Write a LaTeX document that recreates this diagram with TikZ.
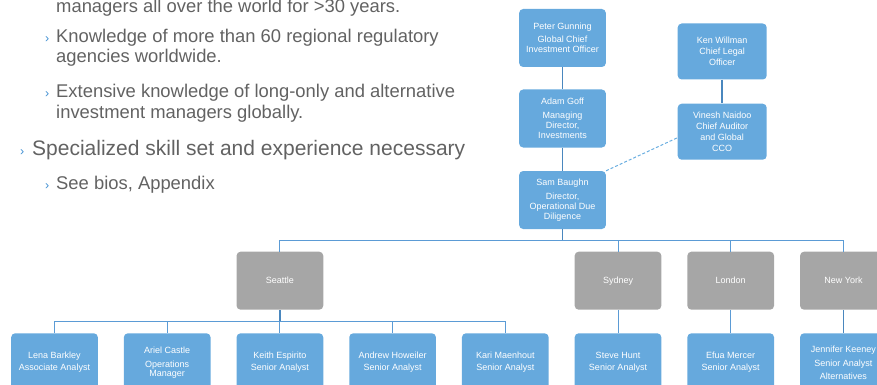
\documentclass[tikz,border=0pt]{standalone}
\usepackage{fontspec}
\setmainfont{Liberation Sans}
\usetikzlibrary{calc}
\definecolor{boxblue}{HTML}{66A9DD}
\definecolor{citygray}{HTML}{A6A6A6}
\definecolor{linedark}{HTML}{4A87BE}
\definecolor{linelight}{HTML}{5B9BD5}
\definecolor{dashblue}{HTML}{6AAEE0}
\definecolor{textgray}{HTML}{626262}
\definecolor{bulletblue}{HTML}{3F8FD2}
\begin{document}
\begin{tikzpicture}[x=1pt,y=-1pt,
  orgbox/.style={fill=boxblue, rounded corners=4pt, minimum width=86.7pt,
    minimum height=58pt, inner sep=1pt, align=center, text=white,
    font=\fontsize{9}{10}\selectfont},
  widebox/.style={orgbox, minimum width=89pt, minimum height=56pt,
    font=\fontsize{9}{11}\selectfont},
  citybox/.style={orgbox, fill=citygray},
  trunk/.style={draw=linedark, line width=1.8pt},
  branch/.style={draw=linelight, line width=1pt},
  dotlink/.style={draw=dashblue, line width=1pt, dash pattern=on 3pt off 2pt},
  bodytext/.style={anchor=base west, inner sep=0pt, text=textgray,
    font=\fontsize{18.4}{20}\selectfont},
  leadtext/.style={bodytext, font=\fontsize{21}{24}\selectfont},
  marker/.style={anchor=base west, inner sep=0pt, text=bulletblue,
    font=\fontsize{12.5}{14}\selectfont},
]
\useasboundingbox (0,0) rectangle (877,385);

% bullet list on the left
\node[bodytext] (t1) at (56,12.5) {managers all over the world for >30 years.};
\node[marker]   (b2) at (45,42.5) {›};
\node[bodytext] (t2) at (56,42.5) {Knowledge of more than 60 regional regulatory};
\node[bodytext] (t3) at (56,62.5) {agencies worldwide.};
\node[marker]   (b4) at (45,97.5) {›};
\node[bodytext] (t4) at (56,97.5) {Extensive knowledge of long-only and alternative};
\node[bodytext] (t5) at (56,118) {investment managers globally.};
\node[marker]   (b6) at (20,155) {›};
\node[leadtext] (t6) at (32,155) {Specialized skill set and experience necessary};
\node[marker]   (b7) at (45,189.5) {›};
\node[bodytext] (t7) at (56,189.5) {See bios, Appendix};

% management chain
\node[orgbox] (peter) at (562.5,38) {Peter Gunning\\[3pt]Global Chief\\Investment Officer};
\node[orgbox] (adam) at (562.5,118.5) {Adam Goff\\[4pt]Managing\\Director,\\Investments};
\node[orgbox] (sam) at (562.5,200) {Sam Baughn\\[4pt]Director,\\Operational Due\\Diligence};
\node[widebox] (ken) at (722.2,51.5) {Ken Willman\\Chief Legal\\Officer};
\node[widebox] (vinesh) at (722.2,131.7) {Vinesh Naidoo\\Chief Auditor\\and Global\\CCO};

% offices
\node[citybox] (seattle) at (279.9,280.7) {Seattle};
\node[citybox] (sydney)  at (618.0,280.7) {Sydney};
\node[citybox] (london)  at (730.7,280.7) {London};
\node[citybox] (newyork) at (843.4,280.7) {New York};

% staff
\node[orgbox] (lena)     at (54.5,362.3)  {Lena Barkley\\[2.7pt]Associate Analyst};
\node[orgbox] (ariel)    at (167.2,362.3) {Ariel Castle\\[4pt]Operations\\[-1pt]Manager};
\node[orgbox] (keith)    at (279.9,362.3) {Keith Espirito\\[2.7pt]Senior Analyst};
\node[orgbox] (andrew)   at (392.6,362.3) {Andrew Howeiler\\[2.7pt]Senior Analyst};
\node[orgbox] (kari)     at (505.3,362.3) {Kari Maenhout\\[2.7pt]Senior Analyst};
\node[orgbox] (steve)    at (618.0,362.3) {Steve Hunt\\[2.7pt]Senior Analyst};
\node[orgbox] (efua)     at (730.7,362.3) {Efua Mercer\\[2.7pt]Senior Analyst};
\node[orgbox] (jennifer) at (843.4,362.3) {Jennifer Keeney\\[4pt]Senior Analyst\\[3pt]Alternatives};

% reporting lines
\draw[trunk] (peter) -- (adam);
\draw[trunk] (adam) -- (sam);
\draw[trunk] (ken) -- (vinesh);
\draw[dotlink] (sam.north east) -- ([yshift=-6pt]vinesh.west);

\coordinate (busA) at ([yshift=-11.5pt]sam.south);
\draw[trunk] (sam.south) -- (busA);
\foreach \c in {seattle,sydney,london,newyork}
  \draw[branch] (busA) -| (\c.north);

\coordinate (busB) at ([yshift=-12pt]seattle.south);
\draw[trunk] (seattle.south) -- (busB);
\foreach \c in {lena,ariel,keith,andrew,kari}
  \draw[branch] (busB) -| (\c.north);

\draw[branch] (sydney) -- (steve);
\draw[branch] (london) -- (efua);
\draw[trunk] (newyork) -- (jennifer);
\end{tikzpicture}
\end{document}
